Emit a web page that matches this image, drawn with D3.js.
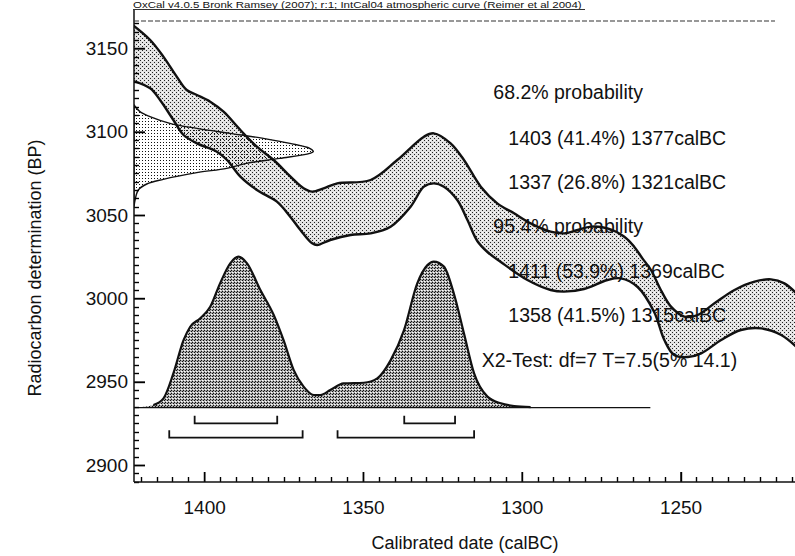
<!DOCTYPE html>
<html><head><meta charset="utf-8">
<script src="https://cdn.jsdelivr.net/npm/d3@7"></script>
<style>
body{margin:0;background:#fff}
svg{display:block}
text{font-family:"Liberation Sans",Arial,Helvetica,sans-serif;fill:#111}
</style>
</head><body>
<svg id="c" width="795" height="556"></svg>
<script>
// ---------------- data ----------------
const header = "OxCal v4.0.5 Bronk Ramsey (2007); r:1; IntCal04 atmospheric curve (Reimer et al 2004)";
const xTitle = "Calibrated date (calBC)";
const yTitle = "Radiocarbon determination (BP)";
const xTickLabels = [1400, 1350, 1300, 1250];
const yTickLabels = [2900, 2950, 3000, 3050, 3100, 3150];

// IntCal04 band, upper and lower edges: [calBC, BP]
const curveUpper = [[1422.5,3164],[1417.0,3155],[1412.8,3144.9],[1408.6,3132.9],[1405.5,3125],[1402.3,3122],[1398.1,3118],[1393.9,3112],[1388.6,3101],[1383.4,3091],[1378.1,3083],[1372.8,3073],[1368.7,3066],[1366.0,3064],[1362.4,3066],[1358.1,3069],[1347.6,3071],[1339.2,3083],[1330.8,3097],[1327.7,3099],[1322.4,3093],[1318.2,3083],[1312.9,3067],[1307.7,3057],[1302.4,3051],[1297.2,3045],[1290.9,3040],[1286.7,3039],[1282.4,3041],[1278.2,3043],[1273.0,3042],[1267.7,3037],[1264.6,3031],[1262.0,3024],[1259.3,3017],[1256.2,3005],[1253.0,2995],[1248.8,2989],[1244.6,2990],[1239.3,2997],[1233.0,3005],[1226.7,3010],[1221.5,3011.4],[1217.3,3009],[1213.0,3002]];
const curveLower = [[1422.5,3130.5],[1417.0,3126],[1413.9,3119],[1409.7,3107],[1406.5,3098],[1402.3,3093],[1396.0,3088],[1392.8,3083],[1388.6,3073],[1383.4,3065],[1377.1,3058],[1372.9,3049],[1369.7,3041],[1366.0,3033],[1364.4,3032],[1360.3,3035],[1353.9,3038],[1347.6,3039],[1341.3,3043],[1335.0,3055],[1330.8,3067],[1327.7,3069],[1324.5,3067],[1320.3,3059],[1317.1,3047],[1314.0,3034.4],[1310.8,3027.8],[1306.6,3021.8],[1298.2,3011],[1290.9,3005],[1286.7,3004],[1280.4,3005.6],[1273.0,3011],[1268.8,3012],[1263.5,3006.8],[1258.3,2991.8],[1255.1,2975],[1252.0,2966],[1247.7,2964.8],[1243.5,2967],[1237.2,2975],[1231.0,2981],[1224.6,2982],[1218.3,2978],[1213.0,2970]];

// measured radiocarbon date on the y axis: [BP, relative probability]
const measurement = [[3116,0],[3112,0.033],[3109,0.089],[3105,0.2],[3102,0.35],[3099,0.535],[3096,0.721],[3093,0.87],[3090,0.98],[3088,1.0],[3087,0.98],[3084,0.814],[3081,0.628],[3078,0.517],[3075.4,0.35],[3071.4,0.163],[3068.6,0.071],[3065,0.024],[3059,0.006],[3055,0]];

// calibrated distribution: [calBC, relative probability]
const calibrated = [[1422,0],[1416.0,0.018],[1412.8,0.062],[1409.7,0.227],[1406.5,0.447],[1404.4,0.536],[1401.3,0.591],[1398.1,0.668],[1395.0,0.823],[1391.8,0.956],[1389.2,1.0],[1386.5,0.956],[1382.3,0.779],[1378.1,0.614],[1375.0,0.447],[1371.8,0.249],[1368.7,0.139],[1365.5,0.084],[1363.4,0.084],[1360.3,0.117],[1356.1,0.161],[1349.7,0.165],[1345.5,0.194],[1341.3,0.313],[1337.1,0.512],[1332.9,0.823],[1329.7,0.944],[1327.7,0.967],[1324.5,0.934],[1321.4,0.757],[1318.2,0.492],[1315.0,0.227],[1310.8,0.073],[1306.6,0.029],[1302.4,0.011],[1297.2,0.004],[1259.5,0]];

// probability ranges [from, to] calBC
const ranges68 = [[1403,1377],[1337,1321]];
const ranges95 = [[1411,1369],[1358,1315]];

const annotations = ["68.2% probability","1403 (41.4%) 1377calBC","1337 (26.8%) 1321calBC","95.4% probability","1411 (53.9%) 1369calBC","1358 (41.5%) 1315calBC","X2-Test: df=7 T=7.5(5% 14.1)"];

// ---------------- layout ----------------
const L = 134, R = 795, T = 20, B = 482;
const svg = d3.select("#c");

const x = d3.scaleLinear().domain([1422.1, 1213.95]).range([L, R]);
const y = d3.scaleLinear().domain([3167, 2889.8]).range([T, B]);
const measX = d3.scaleLinear().domain([0, 1]).range([L, 313.3]);
const calY = d3.scaleLinear().domain([0, 1]).range([y(2934.4), y(3025)]);

// patterns
const defs = svg.append("defs");
function pattern(id, size, bg, dots) {
  const p = defs.append("pattern").attr("id", id).attr("width", size).attr("height", size)
    .attr("patternUnits", "userSpaceOnUse");
  if (bg) p.append("rect").attr("width", size).attr("height", size).attr("fill", bg);
  dots.forEach(d => p.append("rect").attr("x", d[0]).attr("y", d[1]).attr("width", 1).attr("height", 1)
    .attr("fill", d[2]).attr("shape-rendering", "crispEdges"));
}
pattern("bandPat", 4, "#e2e2e2", [[0,0,"#222"],[2,2,"#222"],[2,0,"#fff"]]);
pattern("measPat", 3, null, [[1,1,"#111"]]);
pattern("calPat", 3, "#a6a6a6", [[0,0,"#111"],[2,1,"#111"],[1,2,"#fff"],[2,2,"#d8d8d8"]]);

defs.append("clipPath").attr("id", "plotClip").append("rect")
  .attr("x", L).attr("y", T).attr("width", R - L).attr("height", B - T);

const plot = svg.append("g").attr("clip-path", "url(#plotClip)");

// calibration band
const bandLine = d3.line().x(d => x(d[0])).y(d => y(d[1])).curve(d3.curveCatmullRom);
const bandPath = bandLine(curveUpper) + bandLine(curveLower.slice().reverse()).replace(/^M/, "L") + "Z";
plot.append("path").attr("d", bandPath).attr("fill", "url(#bandPat)").attr("stroke", "none");

// measurement on y axis
const measLine = d3.line().x(d => measX(d[1])).y(d => y(d[0])).curve(d3.curveCatmullRom);
plot.append("path").attr("d", measLine(measurement) + "Z")
  .attr("fill", "url(#measPat)").attr("stroke", "#111").attr("stroke-width", 1.4);

// band outlines
[curveUpper, curveLower].forEach(c => plot.append("path").attr("d", bandLine(c))
  .attr("fill", "none").attr("stroke", "#111").attr("stroke-width", 2.4));

// calibrated distribution
const base = calY(0);
const calArea = d3.area().x(d => x(d[0])).y0(base).y1(d => calY(d[1])).curve(d3.curveMonotoneX);
const calLine = d3.line().x(d => x(d[0])).y(d => calY(d[1])).curve(d3.curveMonotoneX);
plot.append("path").attr("d", calArea(calibrated)).attr("fill", "url(#calPat)").attr("stroke", "none");
plot.append("path").attr("d", calLine(calibrated.filter(d => d[1] > 0.003)))
  .attr("fill", "none").attr("stroke", "#111").attr("stroke-width", 2.2);
plot.append("line").attr("x1", x(calibrated[0][0])).attr("x2", x(calibrated[calibrated.length-1][0]))
  .attr("y1", base).attr("y2", base).attr("stroke", "#111").attr("stroke-width", 1.3);

// range brackets
function brackets(ranges, yLine, h) {
  ranges.forEach(r => {
    plot.append("path")
      .attr("d", `M${x(r[0])},${yLine - h}V${yLine}H${x(r[1])}V${yLine - h}`)
      .attr("fill", "none").attr("stroke", "#111").attr("stroke-width", 1.8);
  });
}
brackets(ranges68, 423.3, 7.5);
brackets(ranges95, 437.7, 7.5);

// ---------------- axes ----------------
const yMinor = d3.range(2890, 3167, 5);
const xMinor = d3.range(1215, 1422, 5);

const yAxisG = svg.append("g").attr("class", "yaxis").attr("transform", `translate(${L},0)`);
yAxisG.append("g").call(d3.axisLeft(y).tickValues(yTickLabels).tickSizeInner(-11).tickSizeOuter(0).tickPadding(6).tickFormat(d3.format("d")));
yAxisG.selectAll(".domain").remove();
yAxisG.selectAll(".tick line").attr("stroke", "#000").attr("stroke-width", 1.5);
yAxisG.selectAll("text").attr("font-size", 19).attr("fill", "#111")
  .attr("font-family", '"Liberation Sans", Arial, sans-serif');

const xAxisG = svg.append("g").attr("class", "xaxis").attr("transform", `translate(0,${B})`);
xAxisG.append("g").call(d3.axisBottom(x).tickValues(xTickLabels).tickSizeInner(-10).tickSizeOuter(0).tickPadding(19).tickFormat(d3.format("d")));
xAxisG.selectAll(".domain").remove();
xAxisG.selectAll(".tick line").attr("stroke", "#000").attr("stroke-width", 1.5);
xAxisG.selectAll("text").attr("font-size", 19).attr("fill", "#111")
  .attr("font-family", '"Liberation Sans", Arial, sans-serif');

// explicit tick marks (inside the frame)
const tickG = svg.append("g").attr("stroke", "#000").attr("stroke-width", 1.4);
tickG.selectAll("line.ym").data(yMinor).join("line").attr("class", "ym")
  .attr("x1", L).attr("x2", d => L + (d % 50 === 0 ? 11 : 5))
  .attr("y1", d => Math.round(y(d)) + 0.5).attr("y2", d => Math.round(y(d)) + 0.5);
tickG.selectAll("line.xm").data(xMinor).join("line").attr("class", "xm")
  .attr("y1", B).attr("y2", d => B - (d % 50 === 0 ? 10 : 5))
  .attr("x1", d => Math.round(x(d)) + 0.5).attr("x2", d => Math.round(x(d)) + 0.5);

// axis lines and frame
svg.append("line").attr("x1", L).attr("x2", L).attr("y1", 9).attr("y2", B).attr("stroke", "#111").attr("stroke-width", 1.5);
svg.append("line").attr("x1", L).attr("x2", R).attr("y1", B).attr("y2", B).attr("stroke", "#111").attr("stroke-width", 1.5);
svg.append("line").attr("x1", L).attr("x2", 775).attr("y1", T + 1).attr("y2", T + 1)
  .attr("stroke", "#333").attr("stroke-width", 1.2).attr("stroke-dasharray", "5,2");

// header
svg.append("text").attr("transform", "translate(133,8) scale(1,0.82)")
  .attr("font-size", 11.5).text(header);
svg.append("line").attr("x1", 133).attr("x2", 585).attr("y1", 9.5).attr("y2", 9.5)
  .attr("stroke", "#333").attr("stroke-width", 1);

// titles
svg.append("text").attr("x", 465).attr("y", 549).attr("text-anchor", "middle")
  .attr("font-size", 18).text(xTitle);
svg.append("text").attr("transform", "translate(41,268) rotate(-90)").attr("text-anchor", "middle")
  .attr("font-size", 18).text(yTitle);

// annotations
const annIndent = [493.3, 508.3, 508.3, 493.3, 508.3, 508.3, 481.7];
const annBase = [99, 145, 189, 233, 278, 322, 367];
svg.append("g").selectAll("text").data(annotations).join("text")
  .attr("x", (d, i) => annIndent[i]).attr("y", (d, i) => annBase[i])
  .attr("font-size", 19.5).text(d => d);
</script>
</body></html>
